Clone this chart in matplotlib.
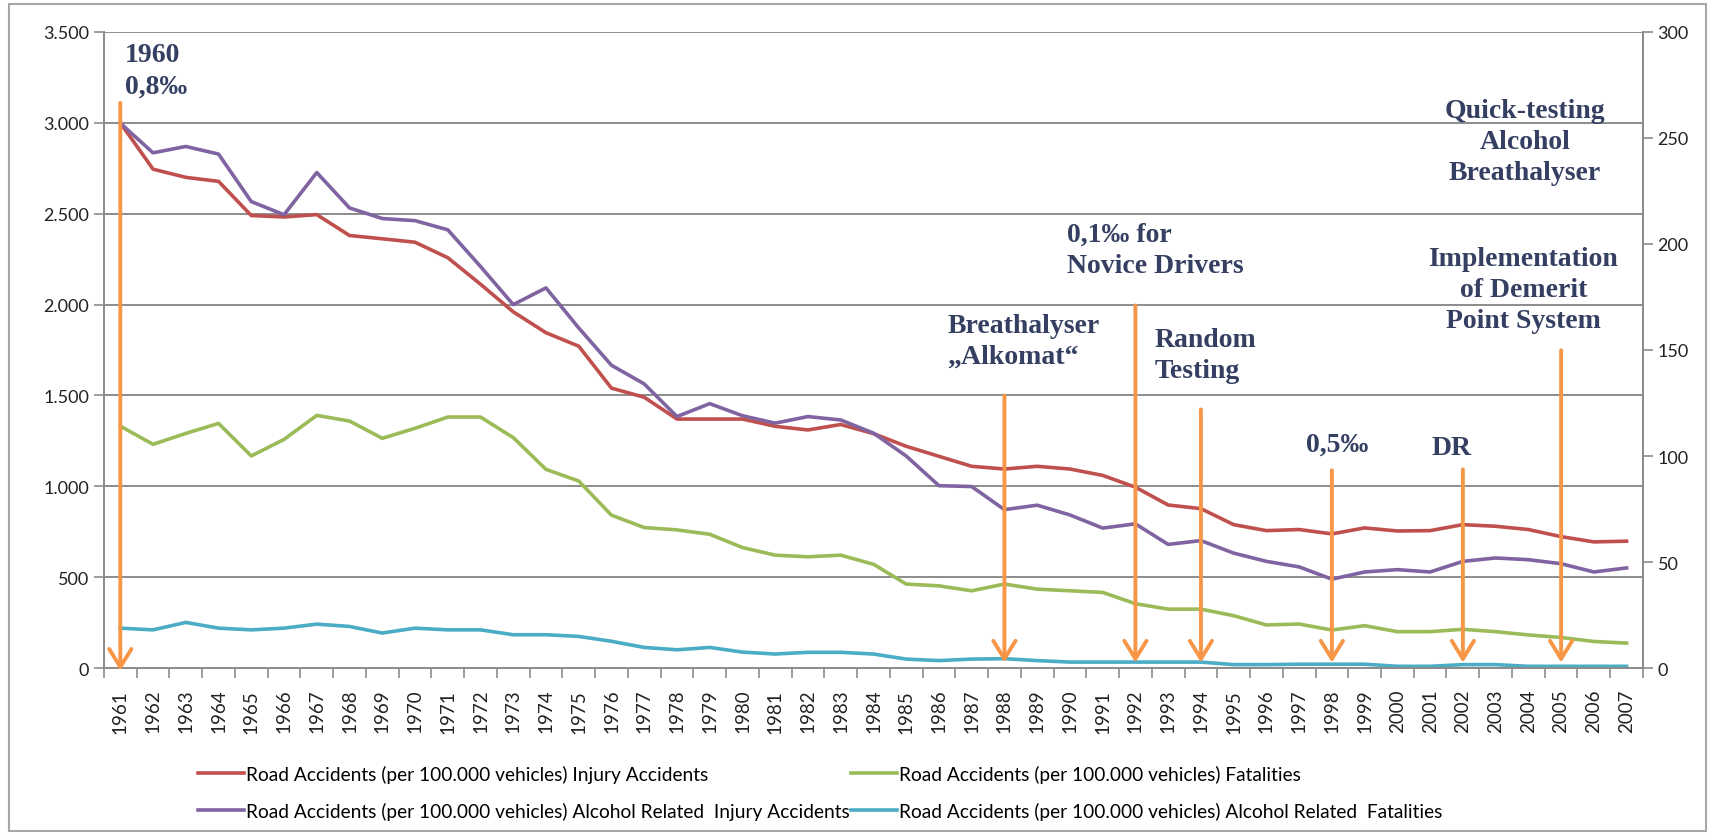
import matplotlib.pyplot as plt
import matplotlib.ticker as mticker
from matplotlib.patches import Rectangle
import numpy as np

# years on the category axis
years = list(range(1961, 2008))

# left axis (per 100.000 vehicles)
injury = [3000, 2745, 2700, 2678, 2490, 2482, 2495, 2380, 2362, 2343, 2258, 2112, 1960, 1845,
          1771, 1540, 1490, 1370, 1370, 1370, 1330, 1310, 1340, 1290, 1220, 1165, 1110, 1095,
          1110, 1095, 1060, 995, 897, 877, 789, 756, 762, 738, 771, 754, 756, 789, 780, 762,
          723, 694, 698]
fatal = [1331, 1231, 1291, 1346, 1167, 1258, 1390, 1359, 1264, 1319, 1381, 1381, 1268, 1093,
         1029, 841, 773, 760, 736, 663, 621, 612, 621, 571, 462, 452, 425, 462, 434, 425, 416,
         354, 324, 324, 288, 237, 242, 209, 233, 200, 200, 213, 200, 182, 168, 146, 137]

# right axis
alc_injury = [257, 243, 246, 242.4, 220, 213.8, 233.7, 217, 212, 211, 206.7, 189.4, 171.4, 179.3,
              160.4, 142.8, 134, 118.6, 124.7, 119, 115.5, 118.6, 117, 110.8, 100, 86, 85.6, 74.7,
              76.8, 72.2, 66, 68, 58.3, 60.1, 54.2, 50.3, 47.7, 41.9, 45.3, 46.4, 45.3, 50.3, 51.9,
              51.1, 49.2, 45.3, 47.2]
alc_fatal = [18.8, 18, 21.5, 18.8, 18, 18.8, 20.7, 19.6, 16.5, 18.8, 18, 18, 15.7, 15.7, 14.9,
             12.6, 9.7, 8.6, 9.7, 7.5, 6.6, 7.4, 7.4, 6.6, 4.2, 3.5, 4.2, 4.4, 3.5, 2.8, 2.8, 2.8,
             2.8, 2.8, 1.6, 1.6, 1.8, 1.8, 1.8, 0.8, 0.8, 1.6, 1.6, 0.8, 0.8, 0.8, 0.8]

labels = ["Road Accidents (per 100.000 vehicles) Injury Accidents",
          "Road Accidents (per 100.000 vehicles) Fatalities",
          "Road Accidents (per 100.000 vehicles) Alcohol Related  Injury Accidents",
          "Road Accidents (per 100.000 vehicles) Alcohol Related  Fatalities"]

# policy events: year, arrow top (left axis units), arrow tip
arrow_years = [1961, 1988, 1992, 1994, 1998, 2002, 2005]
arrow_tops = [3110, 1500, 1995, 1423, 1088, 1093, 1749]
arrow_tips = [-15, 30, 30, 30, 30, 30, 30]

red, green, purple, cyan, orange = "#C0504D", "#9BBB59", "#8064A2", "#4BACC6", "#F79646"
grid_c = "#8C8C8C"
txt_c = "#343F62"

fig = plt.figure(figsize=(17.15, 8.37), dpi=100)
ax = fig.add_axes([0.0606, 0.2007, 0.8974, 0.7599])
ax2 = ax.twinx()

x = np.arange(len(years))
l1, = ax.plot(x, injury, color=red, lw=2.6, label=labels[0])
l2, = ax.plot(x, fatal, color=green, lw=2.6, label=labels[1])
l3, = ax2.plot(x, alc_injury, color=purple, lw=2.6, label=labels[2])
l4, = ax2.plot(x, alc_fatal, color=cyan, lw=2.6, label=labels[3])

ax.set_xlim(-0.5, len(years) - 0.5)
ax.set_ylim(0, 3500)
ax2.set_ylim(0, 300)
ax.set_yticks(np.arange(0, 3501, 500))
ax2.set_yticks(np.arange(0, 301, 50))
ax.yaxis.set_major_formatter(mticker.FuncFormatter(lambda v, p: f"{v:,.0f}".replace(",", ".")))

ax.set_xticks(x)
ax.set_xticklabels([str(y) for y in years], rotation=90, fontsize=13.5, family="Lato", color="#222222")
ax.set_xticks(np.arange(-0.5, len(years)), minor=True)
ax.tick_params(axis="x", which="major", length=0, pad=15)
ax.tick_params(axis="x", which="minor", length=7, color=grid_c, width=1.2)
ax.tick_params(axis="y", length=7, color=grid_c, width=1.2, labelsize=13, labelcolor="#222222")
ax2.tick_params(axis="y", length=7, color=grid_c, width=1.2, labelsize=13, labelcolor="#222222")
for lab in ax.get_yticklabels() + ax2.get_yticklabels():
    lab.set_family("Lato")

ax.grid(axis="y", color=grid_c, lw=1.4)
ax.set_axisbelow(True)
for a in (ax, ax2):
    a.spines["top"].set_visible(False)
    for s in ("left", "right", "bottom"):
        a.spines[s].set_color(grid_c)
        a.spines[s].set_linewidth(1.4)

# arrows and notes drawn on top axis, in left-axis units
for yr, top, tip in zip(arrow_years, arrow_tops, arrow_tips):
    i = years.index(yr)
    ax2.annotate("", xy=(i, tip), xytext=(i, top), xycoords=ax.transData, textcoords=ax.transData,
                 arrowprops=dict(arrowstyle="->,head_length=1.3,head_width=0.8", color=orange,
                                 lw=2.8, mutation_scale=10, shrinkA=0, shrinkB=0),
                 annotation_clip=False)

notes = [("1960\n0,8‰", 1961.15, 3290, "left"),
         ("Breathalyser\n„Alkomat“", 1986.25, 1802, "left"),
         ("0,1‰ for\nNovice Drivers", 1989.9, 2300, "left"),
         ("Random\nTesting", 1992.6, 1722, "left"),
         ("0,5‰", 1997.2, 1234, "left"),
         ("DR", 2001.05, 1212, "left"),
         ("Quick-testing\nAlcohol\nBreathalyser", 2003.9, 2896, "center"),
         ("Implementation\nof Demerit\nPoint System", 2003.85, 2082, "center")]
for txt, yr, yv, ha in notes:
    ax2.text(yr - years[0], yv, txt, transform=ax.transData, ha=ha, va="center",
             fontsize=20, fontweight="bold", family="Liberation Serif", color=txt_c,
             linespacing=1.32, multialignment="center" if ha == "center" else "left")

fig.legend(handles=[l1, l3, l2, l4], ncol=2, loc="upper left", bbox_to_anchor=(0.1155, 0.085),
           frameon=False, prop={"family": "Lato", "size": 13.8}, handlelength=2.4,
           handletextpad=0.1, labelspacing=1.0, columnspacing=0.05, borderpad=0, borderaxespad=0)

fig.patches.append(Rectangle((0.005, 0.006), 0.99, 0.988, transform=fig.transFigure,
                             fill=False, edgecolor="#A6A6A6", lw=1.5))

fig.savefig("out.png", dpi=100)
